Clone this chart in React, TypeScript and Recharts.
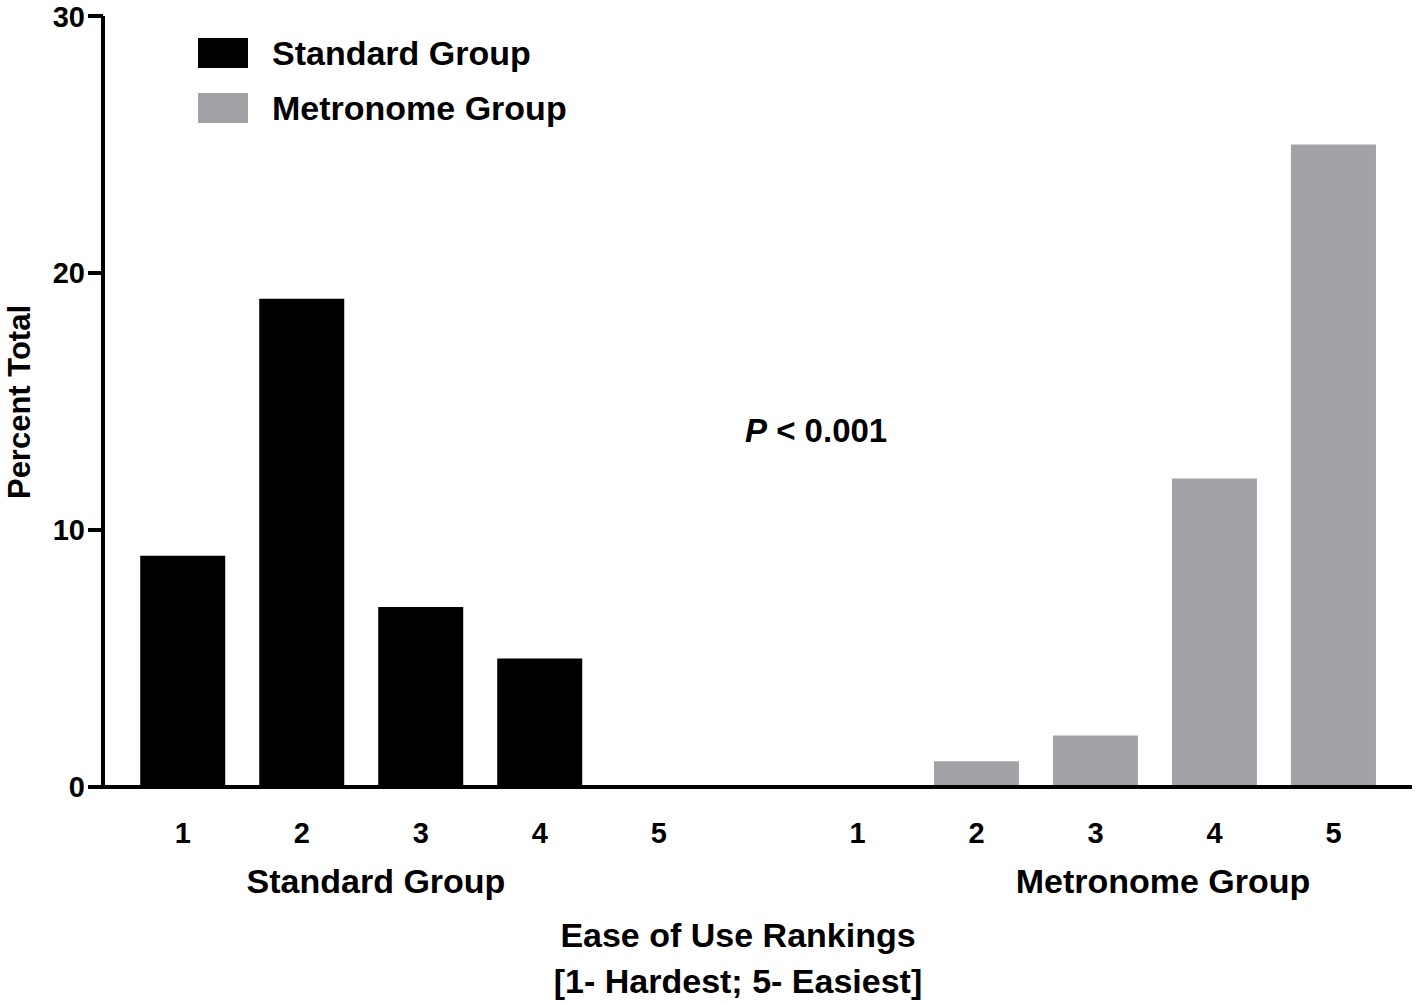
import React from 'react';
import { BarChart, Bar, XAxis, YAxis, Legend, Customized } from 'recharts';

const rankLabels = ['1', '2', '3', '4', '5'];
const standardPositions = [1, 2, 3, 4, 5];
const metronomePositions = [6.67, 7.67, 8.67, 9.67, 10.67];
const standardValues = [9, 19, 7, 5, 0];
const metronomeValues = [0, 1, 2, 12, 25];
const yTicks = [0, 10, 20, 30];

const STD_COLOR = '#000000';
const MET_COLOR = '#a3a2a7';
const FONT = '"Liberation Sans", Arial, Helvetica, sans-serif';

const data = [
  ...standardPositions.map((p, i) => ({ pos: p, standard: standardValues[i], metronome: null as number | null })),
  ...metronomePositions.map((p, i) => ({ pos: p, standard: null as number | null, metronome: metronomeValues[i] })),
];
const allTicks = [...standardPositions, ...metronomePositions];

const labelFor = (v: number) => {
  let i = standardPositions.indexOf(v);
  if (i >= 0) return rankLabels[i];
  i = metronomePositions.indexOf(v);
  return i >= 0 ? rankLabels[i] : '';
};

const XTick = (props: any) => {
  const { x, y, payload } = props;
  return (
    <text x={x} y={y + 56} textAnchor="middle" fontFamily={FONT} fontWeight="bold" fontSize={29} fill="#000">
      {labelFor(payload.value)}
    </text>
  );
};

const LegendContent = () => (
  <svg width={420} height={100} style={{ overflow: 'visible', display: 'block' }}>
    <rect x={0} y={0} width={50} height={30} fill={STD_COLOR} />
    <text x={74} y={27} fontFamily={FONT} fontWeight="bold" fontSize={34} fill="#000">Standard Group</text>
    <rect x={0} y={55} width={50} height={30} fill={MET_COLOR} />
    <text x={74} y={82} fontFamily={FONT} fontWeight="bold" fontSize={34} fill="#000">Metronome Group</text>
  </svg>
);

const Annotations = () => (
  <g fontFamily={FONT} fontWeight="bold" fill="#000">
    <text x={376} y={893} textAnchor="middle" fontSize={34}>Standard Group</text>
    <text x={1163} y={893} textAnchor="middle" fontSize={34}>Metronome Group</text>
    <text x={738} y={947} textAnchor="middle" fontSize={34}>Ease of Use Rankings</text>
    <text x={738} y={993} textAnchor="middle" fontSize={34}>[1- Hardest; 5- Easiest]</text>
    <text x={20} y={402} textAnchor="middle" fontSize={31} transform="rotate(-90 20 402)" dy={10}>Percent Total</text>
    <text x={745} y={442} fontSize={33}>
      <tspan fontStyle="italic">P</tspan>
      <tspan>{' < 0.001'}</tspan>
    </text>
  </g>
);

export default function App() {
  return (
    <div style={{ position: 'absolute', left: 0, top: 0, width: 1418, height: 1005, background: '#fff' }}>
      <BarChart
        width={1418}
        height={1005}
        data={data}
        margin={{ top: 16, right: 6, bottom: 158, left: 0 }}
      >
        <XAxis
          dataKey="pos"
          type="number"
          domain={[0.33, 11.33]}
          ticks={allTicks}
          allowDataOverflow
          tickLine={false}
          tickSize={0}
          tickMargin={0}
          axisLine={{ stroke: '#000', strokeWidth: 4 }}
          tick={<XTick />}
          interval={0}
          height={60}
        />
        <YAxis
          type="number"
          domain={[0, 30]}
          ticks={yTicks}
          width={103}
          tickSize={15}
          tickMargin={3}
          axisLine={{ stroke: '#000', strokeWidth: 4 }}
          tickLine={{ stroke: '#000', strokeWidth: 4 }}
          tick={{ fill: '#000', fontFamily: FONT, fontWeight: 'bold', fontSize: 29 }}
        />
        <Legend
          layout="horizontal"
          verticalAlign="middle"
          align="center"
          content={<LegendContent />}
          wrapperStyle={{ position: 'absolute', left: 198, top: 38, width: 420, height: 100 }}
        />
        <Bar dataKey="standard" stackId="a" fill={STD_COLOR} barSize={85} isAnimationActive={false} />
        <Bar dataKey="metronome" stackId="a" fill={MET_COLOR} barSize={85} isAnimationActive={false} />
        <Customized component={Annotations} />
      </BarChart>
    </div>
  );
}
